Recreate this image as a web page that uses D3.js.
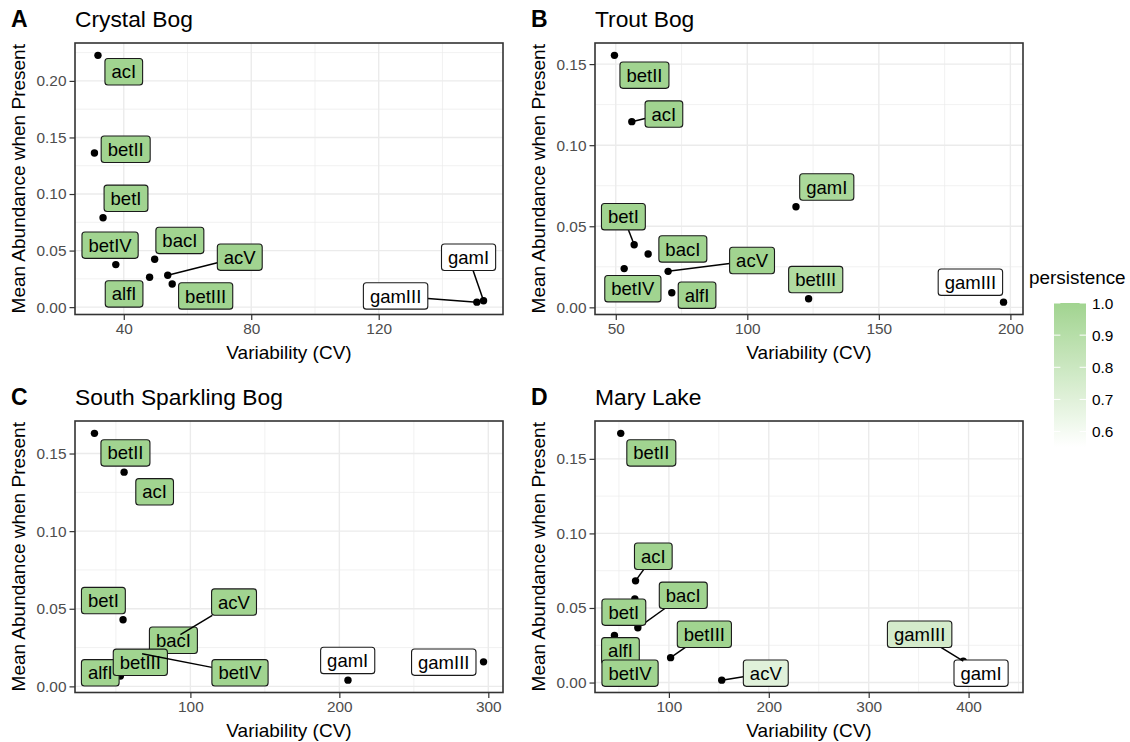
<!DOCTYPE html>
<html>
<head>
<meta charset="utf-8">
<script src="https://cdn.jsdelivr.net/npm/d3@7"></script>
<style>
	body { margin: 0; background: #fff; }
	svg { display: block; font-family: 'Liberation Sans', Arial, Helvetica, sans-serif; }
</style>
</head>
<body>
<div id="app"></div>
<script>
// lineage order is also the drawing order of the labels
const lineages = ['acI', 'alfI', 'bacI', 'betI', 'betII', 'betIII', 'betIV', 'gamI', 'gamIII', 'acV'];

// A - Crystal Bog
const crystalCV = [31.9, 48.1, 49.7, 33.5, 30.8, 55.2, 37.5, 152.9, 150.8, 53.8];
const crystalAbund = [0.2226, 0.0264, 0.0423, 0.079, 0.1363, 0.0205, 0.0376, 0.0056, 0.0044, 0.0282];
const crystalPersist = [1, 1, 1, 1, 1, 1, 1, 0.552, 0.552, 1];
const crystalLabelX = [40.0, 40.1, 57.6, 40.7, 40.6, 65.7, 35.7, 148.2, 125.3, 76.4];
const crystalLabelY = [0.2081, 0.0117, 0.059, 0.0962, 0.1396, 0.0099, 0.0548, 0.0441, 0.0099, 0.0442];
const crystalLeaders = ['acV', 'gamI', 'gamIII'];
const crystalXTicks = [40, 80, 120];
const crystalYTicks = [0, 0.05, 0.1, 0.15, 0.2];

// B - Trout Bog
const troutCV = [56.1, 71.3, 62.3, 57.0, 49.5, 123.3, 53.2, 118.5, 197.4, 69.9];
const troutAbund = [0.1145, 0.009, 0.0329, 0.0386, 0.1554, 0.0053, 0.0239, 0.062, 0.0032, 0.0222];
const troutPersist = [1, 1, 1, 1, 1, 0.93, 1, 0.96, 0.552, 1];
const troutLabelX = [68.3, 80.9, 75.5, 52.9, 60.9, 126.0, 56.5, 130.2, 184.8, 101.8];
const troutLabelY = [0.1192, 0.0075, 0.036, 0.0559, 0.1432, 0.0171, 0.0115, 0.0742, 0.0155, 0.0289];
const troutLeaders = ['acI', 'betI', 'acV'];
const troutXTicks = [50, 100, 150, 200];
const troutYTicks = [0, 0.05, 0.1, 0.15];

// C - South Sparkling Bog
const sparklingCV = [55.5, 53.0, 88.0, 54.8, 35.6, 65.0, 67.6, 205.8, 296.8, 93.3];
const sparklingAbund = [0.138, 0.0066, 0.029, 0.0429, 0.163, 0.014, 0.021, 0.004, 0.0158, 0.0333];
const sparklingPersist = [1, 1, 1, 1, 1, 1, 1, 0.552, 0.552, 1];
const sparklingLabelX = [76.0, 39.5, 88.6, 41.6, 56.4, 66.4, 133.3, 205.6, 270.1, 129.3];
const sparklingLabelY = [0.1253, 0.0087, 0.0297, 0.0553, 0.1504, 0.0155, 0.0087, 0.0167, 0.0156, 0.0543];
const sparklingLeaders = ['acV', 'betIV'];
const sparklingXTicks = [100, 200, 300];
const sparklingYTicks = [0, 0.05, 0.1, 0.15];

// D - Mary Lake
const maryCV = [66.6, 45.5, 68.9, 65.9, 51.8, 101.7, 55.0, 435.0, 394.7, 152.9];
const maryAbund = [0.0682, 0.0315, 0.0367, 0.056, 0.1671, 0.0167, 0.008, 0.006, 0.0143, 0.0016];
const maryPersist = [1, 1, 1, 1, 1, 1, 1, 0.552, 0.76, 0.7];
const maryLabelX = [84.4, 51.5, 114.4, 54.9, 82.4, 135.5, 61.1, 412.5, 351.0, 197.0];
const maryLabelY = [0.0847, 0.0213, 0.0585, 0.0472, 0.154, 0.0324, 0.0063, 0.0063, 0.0324, 0.0063];
const maryLeaders = ['acI', 'bacI', 'betIII', 'gamIII', 'acV'];
const maryXTicks = [100, 200, 300, 400];
const maryYTicks = [0, 0.05, 0.1, 0.15];

const legendTicks = [0.6, 0.7, 0.8, 0.9, 1.0];

/** ====================
 * LAYOUT
======================*/

const width = 1130;
const height = 742;
const panelW = 428;
const panelH = 271.5;
const green = '#a1d490';
const labelFont = 18.5;
const boxH = 26.4;
const padX = 6.5;

const panels = [
	{ tag: 'A', title: 'Crystal Bog', cv: crystalCV, abund: crystalAbund, persist: crystalPersist, labX: crystalLabelX, labY: crystalLabelY, leaders: crystalLeaders, xTicks: crystalXTicks, yTicks: crystalYTicks, left: 75, top: 43 },
	{ tag: 'B', title: 'Trout Bog', cv: troutCV, abund: troutAbund, persist: troutPersist, labX: troutLabelX, labY: troutLabelY, leaders: troutLeaders, xTicks: troutXTicks, yTicks: troutYTicks, left: 595, top: 43 },
	{ tag: 'C', title: 'South Sparkling Bog', cv: sparklingCV, abund: sparklingAbund, persist: sparklingPersist, labX: sparklingLabelX, labY: sparklingLabelY, leaders: sparklingLeaders, xTicks: sparklingXTicks, yTicks: sparklingYTicks, left: 75, top: 421 },
	{ tag: 'D', title: 'Mary Lake', cv: maryCV, abund: maryAbund, persist: maryPersist, labX: maryLabelX, labY: maryLabelY, leaders: maryLeaders, xTicks: maryXTicks, yTicks: maryYTicks, left: 595, top: 421 }
];

const allPersist = [].concat(crystalPersist, troutPersist, sparklingPersist, maryPersist);
const pMin = d3.min(allPersist);
const fill = d3.scaleLinear().domain([pMin, 1]).range(['#ffffff', green]).interpolate(d3.interpolateLab);

const svg = d3.create('svg').attr('width', width).attr('height', height).attr('viewBox', [0, 0, width, height]);
// attach first so text can be measured
document.getElementById('app').append(svg.node());
svg.append('rect').attr('width', width).attr('height', height).attr('fill', '#fff');

// ggplot style expanded domain (5% each side)
function expand(ext) {
	let pad = (ext[1] - ext[0]) * 0.05;
	return [ext[0] - pad, ext[1] + pad];
}

// minor breaks halfway between majors, also beyond the ends
function minorBreaks(ticks, domain) {
	let step = ticks[1] - ticks[0];
	let out = [];
	for (let v = ticks[0] - step / 2; v <= domain[1]; v += step) {
		if (v >= domain[0]) out.push(v);
	}
	return out;
}

panels.forEach((p) => {
	const x = d3.scaleLinear().domain(expand(d3.extent(p.cv))).range([p.left, p.left + panelW]);
	const y = d3.scaleLinear().domain(expand(d3.extent(p.abund))).range([p.top + panelH, p.top]);
	const g = svg.append('g').attr('class', 'panel');

	// grid
	const grid = g.append('g').attr('stroke', '#ebebeb');
	grid.selectAll('line.xminor').data(minorBreaks(p.xTicks, x.domain())).join('line')
		.attr('class', 'xminor')
		.attr('x1', (d) => x(d)).attr('x2', (d) => x(d))
		.attr('y1', p.top).attr('y2', p.top + panelH).attr('stroke-width', 0.7);
	grid.selectAll('line.yminor').data(minorBreaks(p.yTicks, y.domain())).join('line')
		.attr('class', 'yminor')
		.attr('y1', (d) => y(d)).attr('y2', (d) => y(d))
		.attr('x1', p.left).attr('x2', p.left + panelW).attr('stroke-width', 0.7);
	grid.selectAll('line.xmajor').data(p.xTicks).join('line')
		.attr('class', 'xmajor')
		.attr('x1', (d) => x(d)).attr('x2', (d) => x(d))
		.attr('y1', p.top).attr('y2', p.top + panelH).attr('stroke-width', 1.4);
	grid.selectAll('line.ymajor').data(p.yTicks).join('line')
		.attr('class', 'ymajor')
		.attr('y1', (d) => y(d)).attr('y2', (d) => y(d))
		.attr('x1', p.left).attr('x2', p.left + panelW).attr('stroke-width', 1.4);

	// axes
	const xAxis = d3.axisBottom(x).tickValues(p.xTicks).tickSize(5.5).tickPadding(3).tickFormat(d3.format('d'));
	const yAxis = d3.axisLeft(y).tickValues(p.yTicks).tickSize(5.5).tickPadding(3).tickFormat(d3.format('.2f'));
	[
		g.append('g').attr('transform', `translate(0,${p.top + panelH})`).call(xAxis),
		g.append('g').attr('transform', `translate(${p.left},0)`).call(yAxis)
	].forEach((ax) => {
		ax.attr('font-family', null);
		ax.select('.domain').remove();
		ax.selectAll('.tick line').attr('stroke', '#333').attr('stroke-width', 1.2);
		ax.selectAll('.tick text').attr('fill', '#4d4d4d').style('font-size', '15.4px');
	});

	// border
	g.append('rect').attr('x', p.left).attr('y', p.top).attr('width', panelW).attr('height', panelH)
		.attr('fill', 'none').attr('stroke', '#333').attr('stroke-width', 1.6);

	// titles
	g.append('text').attr('x', p.left - 64).attr('y', p.top - 16.5).attr('font-weight', 'bold').attr('font-size', 23).text(p.tag);
	g.append('text').attr('x', p.left).attr('y', p.top - 16.5).attr('font-size', 22.8).text(p.title);
	g.append('text').attr('x', p.left + panelW / 2).attr('y', p.top + panelH + 44.5)
		.attr('text-anchor', 'middle').attr('font-size', 19).text('Variability (CV)');
	g.append('text').attr('transform', `translate(${p.left - 50},${p.top + panelH / 2}) rotate(-90)`)
		.attr('text-anchor', 'middle').attr('font-size', 19).text('Mean Abundance when Present');

	// points
	g.append('g').selectAll('circle').data(lineages).join('circle')
		.attr('cx', (d, i) => x(p.cv[i]))
		.attr('cy', (d, i) => y(p.abund[i]))
		.attr('r', 3.7).attr('fill', '#000');

	// labels with leader segments, drawn in lineage order
	const labels = g.append('g');
	lineages.forEach((name, i) => {
		const px = x(p.cv[i]);
		const py = y(p.abund[i]);
		const cx = x(p.labX[i]);
		const cy = y(p.labY[i]);
		const lab = labels.append('g');
		const seg = lab.append('line');
		const box = lab.append('rect');
		const txt = lab.append('text').attr('x', cx).attr('y', cy + labelFont * 0.355)
			.attr('text-anchor', 'middle').attr('font-size', labelFont).attr('fill', '#000').text(name);
		const w = txt.node().getComputedTextLength() + 2 * padX;
		box.attr('x', cx - w / 2).attr('y', cy - boxH / 2).attr('width', w).attr('height', boxH)
			.attr('rx', 3).attr('ry', 3)
			.attr('fill', fill(p.persist[i])).attr('stroke', '#1a1a1a').attr('stroke-width', 1.1);

		if (p.leaders.includes(name)) {
			// clip the line from point towards label centre at the box edge
			const dx = cx - px;
			const dy = cy - py;
			let t = 0;
			if (Math.abs(dx) > w / 2) t = Math.max(t, (Math.abs(dx) - w / 2) / Math.abs(dx));
			if (Math.abs(dy) > boxH / 2) t = Math.max(t, (Math.abs(dy) - boxH / 2) / Math.abs(dy));
			seg.attr('x1', px).attr('y1', py).attr('x2', px + t * dx).attr('y2', py + t * dy)
				.attr('stroke', '#000').attr('stroke-width', 1.5);
		} else {
			seg.remove();
		}
	});
});

/** ====================
 * LEGEND
======================*/

const barX = 1054;
const barW = 32;
const barTop = 303;
const barBottom = 447;
const ly = d3.scaleLinear().domain([pMin, 1]).range([barBottom, barTop]);

const defs = svg.append('defs');
const grad = defs.append('linearGradient').attr('id', 'pgrad').attr('x1', 0).attr('x2', 0).attr('y1', 1).attr('y2', 0);
d3.range(0, 1.0001, 0.1).forEach((f) => {
	grad.append('stop').attr('offset', f).attr('stop-color', fill(pMin + f * (1 - pMin)));
});

const legend = svg.append('g').attr('class', 'legend');
legend.append('text').attr('x', 1029).attr('y', 284).attr('font-size', 18.9).text('persistence');
legend.append('rect').attr('x', barX).attr('y', barTop).attr('width', barW).attr('height', barBottom - barTop).attr('fill', 'url(#pgrad)');
legend.selectAll('line.tl').data(legendTicks).join('line')
	.attr('class', 'tl')
	.attr('x1', barX).attr('x2', barX + barW / 5)
	.attr('y1', (d) => ly(d)).attr('y2', (d) => ly(d))
	.attr('stroke', '#fff').attr('stroke-width', 1);
legend.selectAll('line.tr').data(legendTicks).join('line')
	.attr('class', 'tr')
	.attr('x1', barX + barW - barW / 5).attr('x2', barX + barW)
	.attr('y1', (d) => ly(d)).attr('y2', (d) => ly(d))
	.attr('stroke', '#fff').attr('stroke-width', 1);
legend.selectAll('text.lab').data(legendTicks).join('text')
	.attr('class', 'lab')
	.attr('x', barX + barW + 6).attr('y', (d) => ly(d) + 5.5)
	.attr('font-size', 15.4).text((d) => d3.format('.1f')(d));
</script>
</body>
</html>
